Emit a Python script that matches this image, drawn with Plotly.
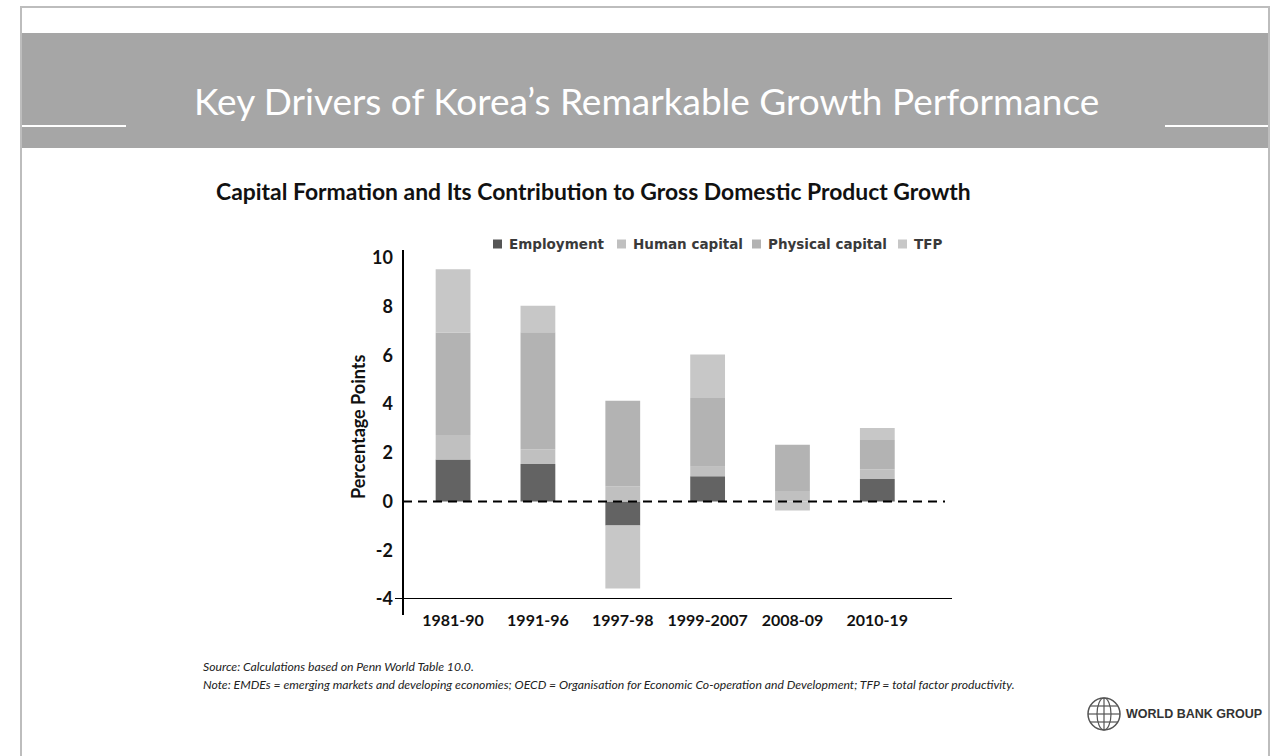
import plotly.graph_objects as go

W, H = 1281, 756

periods = ["1981-90", "1991-96", "1997-98", "1999-2007", "2008-09", "2010-19"]
employment = [1.73, 1.54, -0.98, 1.04, 0.0, 0.93]
human_capital = [1.0, 0.6, 0.62, 0.39, 0.43, 0.4]
physical_capital = [4.21, 4.81, 3.52, 2.82, 1.9, 1.2]
tfp = [2.6, 1.09, -2.59, 1.79, -0.37, 0.49]

series_names = ["Employment", "Human capital", "Physical capital", "TFP"]
series_values = [employment, human_capital, physical_capital, tfp]
series_colors = ["#636363", "#c0c0c0", "#b3b3b3", "#c7c7c7"]

y_ticks = [-4, -2, 0, 2, 4, 6, 8, 10]


def px(x):
    return x / W


def py(y):
    return 1 - y / H


fig = go.Figure()
for name, vals, col in zip(series_names, series_values, series_colors):
    fig.add_trace(go.Bar(x=periods, y=vals, name=name, marker=dict(color=col, line=dict(width=0)),
                         showlegend=False))

ax_left, ax_right = 403, 952
ax_top, ax_bot = 250, 599
y_top_val = 10.33

shapes = []
shapes.append(dict(type="rect", xref="paper", yref="paper", x0=px(21), x1=px(1269), y0=py(7), y1=py(780),
                   line=dict(color="#bdbdbd", width=2), fillcolor="rgba(0,0,0,0)", layer="below"))
shapes.append(dict(type="rect", xref="paper", yref="paper", x0=px(22), x1=px(1268), y0=py(33), y1=py(148),
                   line=dict(width=0), fillcolor="#a6a6a6", layer="below"))
shapes.append(dict(type="line", xref="paper", yref="paper", x0=px(22), x1=px(126), y0=py(126), y1=py(126),
                   line=dict(color="white", width=2)))
shapes.append(dict(type="line", xref="paper", yref="paper", x0=px(1165), x1=px(1268), y0=py(126), y1=py(126),
                   line=dict(color="white", width=2)))
shapes.append(dict(type="line", xref="paper", yref="paper", x0=px(ax_left), x1=px(ax_left), y0=py(250), y1=py(615),
                   line=dict(color="black", width=2)))
shapes.append(dict(type="line", xref="paper", yref="y", x0=px(395), x1=px(ax_right), y0=-4, y1=-4,
                   line=dict(color="black", width=2)))
shapes.append(dict(type="line", xref="paper", yref="y", x0=px(ax_left), x1=px(945), y0=0, y1=0,
                   line=dict(color="black", width=2, dash="9px,6px")))

annotations = []
annotations.append(dict(text="Key Drivers of Korea\u2019s Remarkable Growth Performance", xref="paper", yref="paper",
                        x=px(646), y=py(100), xanchor="center", yanchor="middle", showarrow=False,
                        font=dict(family="Lato", size=37, color="white")))
annotations.append(dict(text="<b>Capital Formation and Its Contribution to Gross Domestic Product Growth</b>",
                        xref="paper", yref="paper", x=px(593), y=py(191), xanchor="center", yanchor="middle",
                        showarrow=False, font=dict(family="Lato", size=22.9, color="#111111")))
annotations.append(dict(text="<b>Percentage Points</b>", xref="paper", yref="paper", x=px(358), y=py(427),
                        xanchor="center", yanchor="middle", textangle=-90, showarrow=False,
                        font=dict(family="Lato", size=18, color="#111111")))

leg_sq = [493, 617, 752, 898]
for xs, name, col in zip(leg_sq, series_names, series_colors):
    shapes.append(dict(type="rect", xref="paper", yref="paper", x0=px(xs), x1=px(xs + 9), y0=py(239.5),
                       y1=py(248.5), line=dict(width=0), fillcolor=col if name != "Employment" else "#555555"))
    annotations.append(dict(text="<b>" + name + "</b>", xref="paper", yref="paper", x=px(xs + 14), y=py(244),
                            xanchor="left", yanchor="middle", showarrow=False,
                            font=dict(family="DejaVu Sans", size=13.5, color="#3a3a3a")))

annotations.append(dict(text="<i>Source: Calculations based on Penn World Table 10.0.</i>", xref="paper",
                        yref="paper", x=px(201), y=py(666), xanchor="left", yanchor="middle", showarrow=False,
                        font=dict(family="Lato", size=12.2, color="#222222")))
annotations.append(dict(text="<i>Note: EMDEs = emerging markets and developing economies; OECD = Organisation for "
                             "Economic Co-operation and Development; TFP = total factor productivity.</i>",
                        xref="paper", yref="paper", x=px(201), y=py(684), xanchor="left", yanchor="middle",
                        showarrow=False, font=dict(family="Lato", size=12.2, color="#222222")))

gx, gy, gr = 1104, 714, 16
shapes.append(dict(type="circle", xref="paper", yref="paper", x0=px(gx - gr), x1=px(gx + gr), y0=py(gy + gr),
                   y1=py(gy - gr), line=dict(color="#555555", width=1.5)))
shapes.append(dict(type="circle", xref="paper", yref="paper", x0=px(gx - 7), x1=px(gx + 7), y0=py(gy + gr),
                   y1=py(gy - gr), line=dict(color="#555555", width=1.2)))
shapes.append(dict(type="line", xref="paper", yref="paper", x0=px(gx), x1=px(gx), y0=py(gy + gr), y1=py(gy - gr),
                   line=dict(color="#555555", width=1.2)))
for dy in (-8, 0, 8):
    half = (gr ** 2 - dy ** 2) ** 0.5
    shapes.append(dict(type="line", xref="paper", yref="paper", x0=px(gx - half), x1=px(gx + half),
                       y0=py(gy + dy), y1=py(gy + dy), line=dict(color="#555555", width=1.2)))
annotations.append(dict(text="<b>WORLD BANK GROUP</b>", xref="paper", yref="paper", x=px(1124), y=py(714),
                        xanchor="left", yanchor="middle", showarrow=False,
                        font=dict(family="Liberation Sans", size=12.5, color="#333333")))

fig.update_layout(
    width=W, height=H, autosize=False,
    margin=dict(l=0, r=0, t=0, b=0, pad=0),
    paper_bgcolor="white", plot_bgcolor="white",
    barmode="relative", bargap=0.59,
    shapes=shapes, annotations=annotations,
    xaxis=dict(type="category", domain=[px(ax_left), px(ax_right)], range=[-0.59, 5.88], showline=False,
               showgrid=False, zeroline=False, ticks="outside", ticklen=7, tickcolor="rgba(0,0,0,0)",
               automargin=False, fixedrange=True,
               tickvals=periods, ticktext=["<b>%s</b>" % p for p in periods],
               tickfont=dict(family="Lato", size=16, color="#111111")),
    yaxis=dict(domain=[py(ax_bot), py(ax_top)], range=[-4, y_top_val], tickvals=y_ticks,
               ticktext=["<b>%d</b>" % v for v in y_ticks], showline=False, showgrid=False, zeroline=False,
               automargin=False, fixedrange=True,
               ticks="", ticklabelstandoff=9, tickfont=dict(family="Lato", size=18, color="#111111")),
)

fig.write_html("out.html", config={"displayModeBar": False},
               post_script="document.body.style.margin='0';document.body.style.overflow='hidden';")
